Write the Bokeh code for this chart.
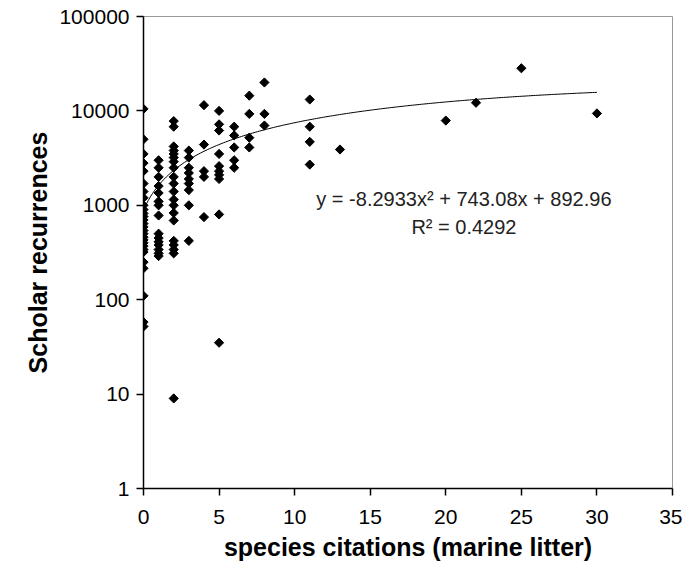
import numpy as np
from bokeh.plotting import figure
from bokeh.models import ColumnDataSource, FixedTicker, Label, Title
from bokeh.embed import file_html
from bokeh.resources import INLINE

# species citations (x) and scholar recurrences (y), grouped by citation count
col_x = [0, 1, 2, 3, 4, 5, 6, 7, 8, 11, 13, 20, 22, 25, 30]
col_y = [
    [10500, 5000, 3500, 2800, 2300, 1700, 1400, 1200, 1000, 900, 820, 760, 700,
     640, 590, 540, 500, 460, 430, 400, 370, 340, 320, 250, 215, 110, 58, 52],
    [3000, 2500, 2000, 1600, 1350, 1100, 1000, 780, 500, 450, 410, 380, 340, 310, 290],
    [7800, 6800, 4200, 3800, 3500, 3200, 2900, 2500, 2000, 1700, 1400, 1150, 1000,
     830, 690, 420, 380, 340, 310, 9],
    [3800, 3200, 2500, 2200, 1900, 1700, 1450, 1000, 420],
    [11500, 4400, 2300, 2000, 750],
    [10000, 7200, 6200, 3500, 2600, 2300, 2100, 1900, 800, 35],
    [6800, 5500, 4100, 3000, 2500],
    [14500, 9300, 5200, 4100],
    [20000, 9300, 7000],
    [13200, 6800, 4700, 2700],
    [3900],
    [7900],
    [12200],
    [28300],
    [9400],
]

# polynomial trend line coefficients shown on the chart
coef_a, coef_b, coef_c = -8.2933, 743.08, 892.96
equation_text = "y = -8.2933x\u00b2 + 743.08x + 892.96"
r2_text = "R\u00b2 = 0.4292"
x_title = "species citations (marine litter)"
y_title = "Scholar recurrences"

x_ticks = [0, 5, 10, 15, 20, 25, 30, 35]
y_ticks = [1, 10, 100, 1000, 10000, 100000]

xs, ys = [], []
for cx, vals in zip(col_x, col_y):
    for v in vals:
        xs.append(cx)
        ys.append(v)
src = ColumnDataSource(dict(x=xs, y=ys))

p = figure(width=682, height=567, y_axis_type="log",
           x_range=(0, 35), y_range=(1, 100000),
           output_backend="svg", toolbar_location=None,
           min_border_left=143, min_border_right=10,
           min_border_top=16, min_border_bottom=79)
p.background_fill_color = "white"
p.border_fill_color = "white"
p.outline_line_color = "#999999"
p.outline_line_width = 1
p.xgrid.visible = False
p.ygrid.visible = False

tx = np.linspace(0, 30, 200)
ty = coef_a * tx ** 2 + coef_b * tx + coef_c
p.line(tx, ty, line_color="black", line_width=1)

p.scatter("x", "y", source=src, marker="square", angle=np.pi / 4, size=6.5,
          fill_color="black", line_color="black")

for ax in (p.xaxis[0], p.yaxis[0]):
    ax.axis_line_color = "black"
    ax.axis_line_width = 1.5
    ax.major_tick_line_color = "black"
    ax.major_tick_line_width = 1.5
    ax.major_tick_out = 7
    ax.major_tick_in = 0
    ax.minor_tick_line_color = None
    ax.major_label_text_font = "Liberation Sans"
    ax.major_label_text_font_size = "21px"
    ax.major_label_text_color = "black"
    ax.axis_label_text_font = "Liberation Sans"
    ax.axis_label_text_font_style = "bold"
    ax.axis_label_text_font_size = "25px"
    ax.axis_label_text_color = "black"

p.xaxis.ticker = FixedTicker(ticks=x_ticks)
p.yaxis.ticker = FixedTicker(ticks=y_ticks)
p.yaxis.major_label_overrides = {t: str(t) for t in y_ticks}
p.yaxis.axis_label = y_title
p.xaxis.major_label_standoff = 14
p.yaxis.major_label_standoff = 7
p.yaxis.axis_label_standoff = 4

# x-axis title as a title in the lower panel
p.add_layout(Title(text=x_title, align="center", text_font="Liberation Sans",
                   text_font_style="bold", text_font_size="25px",
                   text_color="black", standoff=8), "below")

p.add_layout(Label(x=21.2, y=1180, text=equation_text, text_align="center",
                   text_baseline="middle", text_font="Liberation Sans",
                   text_font_size="20px", text_color="#222222"))
p.add_layout(Label(x=21.2, y=582, text=r2_text, text_align="center",
                   text_baseline="middle", text_font="Liberation Sans",
                   text_font_size="20px", text_color="#222222"))

open("out.html", "w").write(file_html(p, INLINE))
